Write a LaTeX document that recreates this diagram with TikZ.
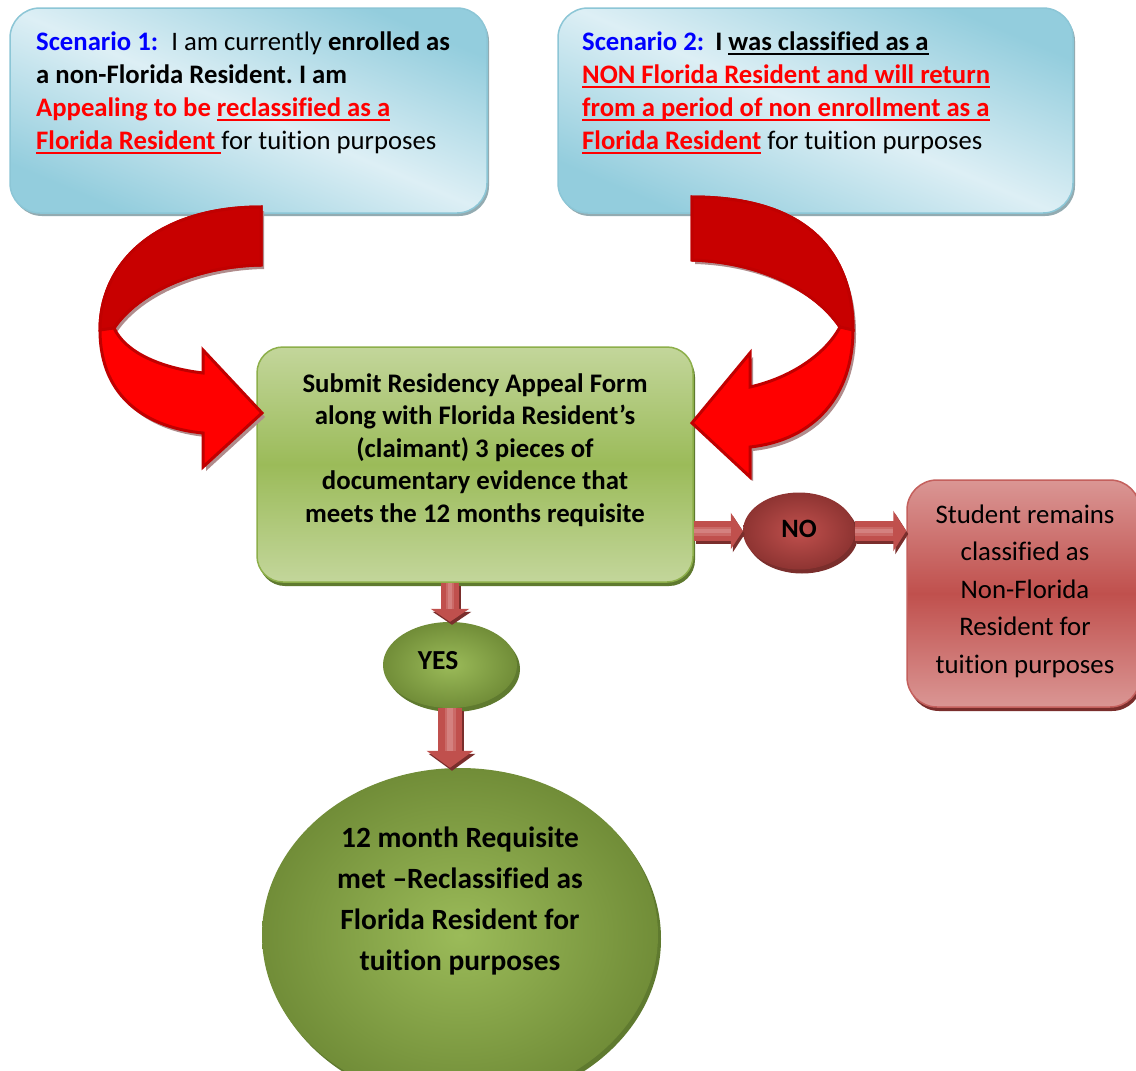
\documentclass[tikz,border=0pt]{standalone}
\usepackage{fontspec}
\setmainfont{Carlito}[Ligatures={TeX,NoCommon},RawFeature={-liga;-clig;-calt;-rlig}]
\usetikzlibrary{arrows.meta,shapes.geometric,shadows}
\definecolor{blueD}{HTML}{93CDDD}
\definecolor{blueL}{HTML}{DDEFF5}
\definecolor{blueB}{HTML}{8CC6D6}
\definecolor{blueS}{HTML}{93ABB1}
\definecolor{sblue}{HTML}{0000FF}
\definecolor{sred}{HTML}{FF0000}
\definecolor{greenL}{HTML}{C3D69B}
\definecolor{greenM}{HTML}{9BBB59}
\definecolor{greenB}{HTML}{8DAF4A}
\definecolor{greenS}{HTML}{5F7A2F}
\definecolor{greenD}{HTML}{718D38}
\definecolor{redL}{HTML}{DA9694}
\definecolor{redM}{HTML}{C0504D}
\definecolor{redB}{HTML}{C4605D}
\definecolor{redD}{HTML}{8E3432}
\definecolor{redS}{HTML}{7A2E2C}
\definecolor{arrDark}{HTML}{C00000}
\definecolor{arrUp}{HTML}{C80000}
\definecolor{arrLow}{HTML}{FF0000}
\definecolor{arrShadow}{HTML}{B08C8C}
\definecolor{bShaft}{HTML}{C0504D}
\definecolor{bShaftM}{HTML}{CB6A67}
\definecolor{bShaftL}{HTML}{D4817F}

\newcommand{\myul}[1]{\setbox0\hbox{#1}\rlap{\rule[-5pt]{\wd0}{2.5pt}}\box0}
\newcommand{\leftlines}[1]{\vtop{\halign{##\hfil\cr#1\crcr}}}
\newcommand{\centerlines}[1]{\vtop{\halign{\hfil##\hfil\cr#1\crcr}}}

\newcommand{\curvL}{(261,207) .. controls (160,207) and (100,260) .. (100,330) .. controls (100,400) and (150,428) .. (203,433) -- (203,467) -- (262,413) -- (203,350) -- (203,373) .. controls (160,368) and (125,352) .. (114,328) .. controls (140,290) and (200,266) .. (261,265) -- cycle}
\newcommand{\curvLup}{(261,207) .. controls (160,207) and (100,260) .. (100,330) -- (114,328) .. controls (140,290) and (200,266) .. (261,265) -- cycle}
\newcommand{\curvR}{(692,197) .. controls (810,197) and (853,255) .. (853,330) .. controls (853,395) and (815,440) .. (750,447) -- (750,477) -- (692,423) -- (750,353) -- (750,387) .. controls (790,378) and (825,355) .. (840,327) .. controls (815,290) and (760,262) .. (692,260) -- cycle}
\newcommand{\curvRup}{(692,197) .. controls (810,197) and (853,255) .. (853,330) -- (840,327) .. controls (815,290) and (760,262) .. (692,260) -- cycle}

% #1 start, #2 end, #3 shaft width, #4 head width, #5 head length, #6 stripe width
\newcommand{\blockarrow}[6]{%
  \draw[transform canvas={xshift=2pt,yshift=-3pt}, line width=#3, draw=redS, -{Triangle[width=#4,length=#5]}] #1 -- #2;
  \draw[line width=#3, draw=bShaft, -{Triangle[width=#4,length=#5]}] #1 -- #2;
  \draw[line width=#6, draw=bShaftM, shorten >=#5] #1 -- #2;
  \draw[line width=0.5*#6, draw=bShaftL, shorten >=#5] #1 -- #2;
}

\begin{document}
\frenchspacing
\begin{tikzpicture}[x=1pt,y=-1pt,
  scbox/.style={draw=blueB, line width=1.5pt, rounded corners=30pt,
    top color=blueD, bottom color=blueD, middle color=blueL, shading angle=-23,
    drop shadow={shadow xshift=2pt, shadow yshift=-3pt, fill=blueS, opacity=1},
    inner sep=0pt},
  greenbox/.style={draw=greenB, line width=1.5pt, rounded corners=26pt,
    top color=greenL, bottom color=greenL, middle color=greenM,
    drop shadow={shadow xshift=2pt, shadow yshift=-4pt, fill=greenS, opacity=1},
    inner sep=0pt},
  redbox/.style={draw=redB, line width=1.5pt, rounded corners=30pt,
    top color=redL, bottom color=redL, middle color=redM,
    drop shadow={shadow xshift=2pt, shadow yshift=-4pt, fill=redS, opacity=1},
    inner sep=0pt},
  greenell/.style={shape=ellipse, inner color=greenM, outer color=greenD,
    drop shadow={shadow xshift=3pt, shadow yshift=-4pt, fill=greenS, opacity=1},
    inner sep=0pt},
  redell/.style={shape=ellipse, inner color=redM, outer color=redD,
    drop shadow={shadow xshift=3pt, shadow yshift=-4pt, fill=redS, opacity=1},
    inner sep=0pt},
  txt/.style={inner sep=0pt, anchor=base},
  curvarrow/.style={fill=arrLow, draw=arrDark, line width=3pt},
  curvup/.style={fill=arrUp, draw=arrDark, line width=3pt},
  curvshadow/.style={fill=arrShadow, transform canvas={xshift=3pt,yshift=-4pt}}
]
\useasboundingbox (0,0) rectangle (1136,1071);
\fill[white] (0,0) rectangle (1136,1071);

% scenario boxes
\node[scbox, minimum width=477pt, minimum height=205pt] (sc1) at (248.5,110.5) {};
\node[scbox, minimum width=515pt, minimum height=205pt] (sc2) at (815.5,110.5) {};

\node[txt, anchor=base west, font=\fontsize{26.7}{33}\selectfont] (sc1t) at (36,50) {\leftlines{%
{\bfseries\color{sblue}Scenario 1:}\hspace{13pt}I am currently \textbf{enrolled as}\cr
\textbf{a non-Florida Resident. I am}\cr
{\bfseries\color{sred}Appealing to be \myul{reclassified as a}}\cr
{\bfseries\color{sred}\myul{Florida Resident\ }}for tuition purposes}};

\node[txt, anchor=base west, font=\fontsize{26.7}{33}\selectfont] (sc2t) at (582,50) {\leftlines{%
{\bfseries\color{sblue}Scenario 2:}\hspace{11pt}\textbf{I \myul{was classified as a}}\cr
{\bfseries\color{sred}\myul{NON Florida Resident and will return}}\cr
{\bfseries\color{sred}\myul{from a period of non enrollment as a}}\cr
{\bfseries\color{sred}\myul{Florida Resident}} for tuition purposes}};

% central box
\node[greenbox, minimum width=436pt, minimum height=235pt] (green) at (475,464.5) {};
\node[txt, font=\bfseries\fontsize{26.8}{32.5}\selectfont] (greent) at (475,392) {\centerlines{%
Submit Residency Appeal Form\cr
along with Florida Resident’s\cr
(claimant) 3 pieces of\cr
documentary evidence that\cr
meets the 12 months requisite}};

% NO branch
\node[redell, minimum width=112pt, minimum height=77pt] (no) at (799,531) {};
\node[txt, font=\bfseries\fontsize{26.5}{30}\selectfont] (not) at (799,537) {NO};
\node[redbox, minimum width=233pt, minimum height=227pt] (red) at (1023.5,593.5) {};
\node[txt, font=\fontsize{26.8}{37.5}\selectfont] (redt) at (1025,523) {\centerlines{%
Student remains\cr
classified as\cr
Non-Florida\cr
Resident for\cr
tuition purposes}};

% YES branch
\node[greenell, minimum width=134pt, minimum height=86pt] (yes) at (450,665) {};
\node[txt, font=\bfseries\fontsize{27.5}{30}\selectfont] (yest) at (438,669) {YES};
\node[greenell, minimum width=396pt, minimum height=334pt] (big) at (460,935) {};
\node[txt, font=\bfseries\fontsize{29.4}{41}\selectfont] (bigt) at (460,847) {\centerlines{%
12 month Requisite\cr
met –Reclassified as\cr
Florida Resident for\cr
tuition purposes}};

% curved arrows
\fill[curvshadow] \curvL;
\filldraw[curvarrow] \curvL;
\filldraw[curvup] \curvLup;
\fill[curvshadow] \curvR;
\filldraw[curvarrow] \curvR;
\filldraw[curvup] \curvRup;

% block arrows
\blockarrow{(green.east |- no.west)}{(no.west)}{20pt}{36pt}{12pt}{9pt}
\blockarrow{(no.east)}{(no.east -| red.west)}{20pt}{40pt}{13pt}{9pt}
\blockarrow{(green.south -| yes.north)}{(yes.north)}{18pt}{38pt}{13pt}{8pt}
\blockarrow{(yes.south)}{(yes.south |- big.north)}{24pt}{46pt}{17pt}{11pt}
\end{tikzpicture}
\end{document}
